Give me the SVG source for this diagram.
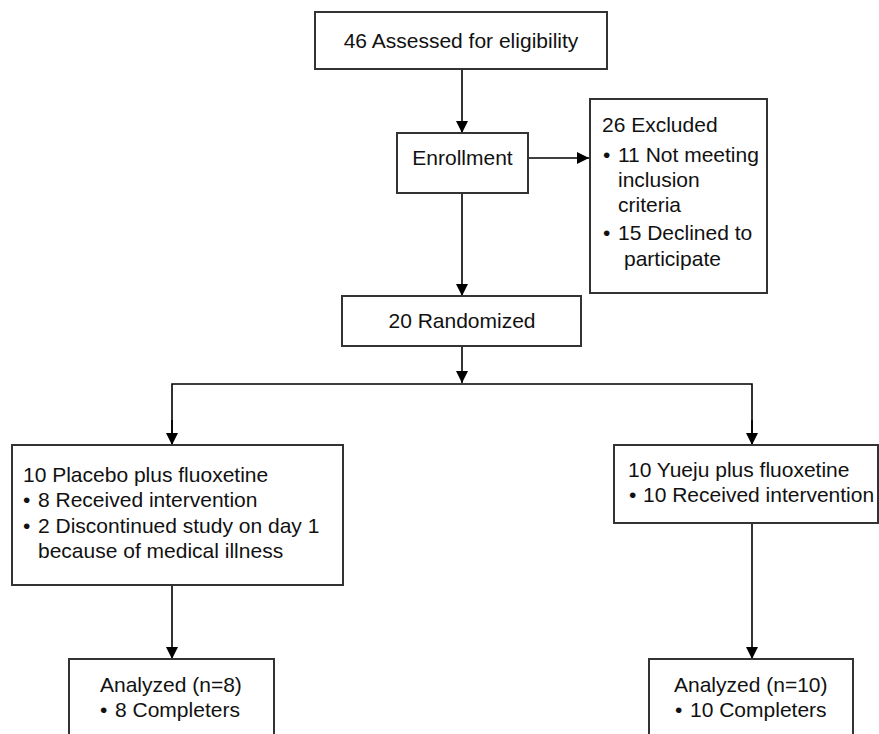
<svg xmlns="http://www.w3.org/2000/svg" width="879" height="734" viewBox="0 0 879 734">
<defs>
<marker id="ah" markerUnits="userSpaceOnUse" markerWidth="14" markerHeight="14" refX="12" refY="6" orient="auto">
<path d="M0,0 L12,6 L0,12 Z" fill="#000"/>
</marker>
<style>
.box{fill:#fff;stroke:#333;stroke-width:2}
.t{font-family:"Liberation Sans",Arial,sans-serif;font-size:21px;fill:#111}
.c{fill:none;stroke:#000;stroke-width:1.6}
</style>
</defs>
<rect width="879" height="734" fill="#fff"/>
<g id="connectors">
<line class="c" x1="462" y1="69" x2="462" y2="133" marker-end="url(#ah)"/>
<line class="c" x1="528" y1="158" x2="589" y2="158" marker-end="url(#ah)"/>
<line class="c" x1="462" y1="193" x2="462" y2="296" marker-end="url(#ah)"/>
<line class="c" x1="462" y1="346" x2="462" y2="383" marker-end="url(#ah)"/>
<polyline class="c" points="172,445 172,384 752,384 752,445"/>
<line class="c" x1="172" y1="420" x2="172" y2="445" marker-end="url(#ah)"/>
<line class="c" x1="752" y1="420" x2="752" y2="445" marker-end="url(#ah)"/>
<line class="c" x1="172" y1="585" x2="172" y2="659" marker-end="url(#ah)"/>
<line class="c" x1="752" y1="523" x2="752" y2="659" marker-end="url(#ah)"/>
</g>
<g id="assessed">
<rect class="box" x="315" y="12" width="292" height="57"/>
<text class="t" x="461" y="48" text-anchor="middle">46 Assessed for eligibility</text>
</g>
<g id="enrollment">
<rect class="box" x="397" y="133" width="131" height="60"/>
<text class="t" x="462.5" y="165" text-anchor="middle">Enrollment</text>
</g>
<g id="excluded">
<rect class="box" x="590" y="99" width="177" height="194"/>
<text class="t" x="602" y="132">26 Excluded</text>
<text class="t" x="603" y="162">•</text>
<text class="t" x="618" y="162">11 Not meeting</text>
<text class="t" x="618" y="187">inclusion</text>
<text class="t" x="618" y="212">criteria</text>
<text class="t" x="603" y="240">•</text>
<text class="t" x="618" y="240">15 Declined to</text>
<text class="t" x="624" y="266">participate</text>
</g>
<g id="randomized">
<rect class="box" x="342" y="296" width="239" height="50"/>
<text class="t" x="462" y="328" text-anchor="middle">20 Randomized</text>
</g>
<g id="placebo">
<rect class="box" x="12" y="445" width="331" height="140"/>
<text class="t" x="23" y="482">10 Placebo plus fluoxetine</text>
<text class="t" x="23" y="507">•</text>
<text class="t" x="38" y="507">8 Received intervention</text>
<text class="t" x="23" y="533">•</text>
<text class="t" x="38" y="533">2 Discontinued study on day 1</text>
<text class="t" x="38" y="558">because of medical illness</text>
</g>
<g id="yueju">
<rect class="box" x="614" y="445" width="264" height="78"/>
<text class="t" x="628" y="477">10 Yueju plus fluoxetine</text>
<text class="t" x="629" y="502">•</text>
<text class="t" x="643" y="502">10 Received intervention</text>
</g>
<g id="analyzed-placebo">
<rect class="box" x="69" y="659" width="205" height="90"/>
<text class="t" x="100" y="692">Analyzed (n=8)</text>
<text class="t" x="100" y="717">•</text>
<text class="t" x="115" y="717">8 Completers</text>
</g>
<g id="analyzed-yueju">
<rect class="box" x="649" y="659" width="204" height="90"/>
<text class="t" x="674" y="692">Analyzed (n=10)</text>
<text class="t" x="675" y="717">•</text>
<text class="t" x="690" y="717">10 Completers</text>
</g>
</svg>
